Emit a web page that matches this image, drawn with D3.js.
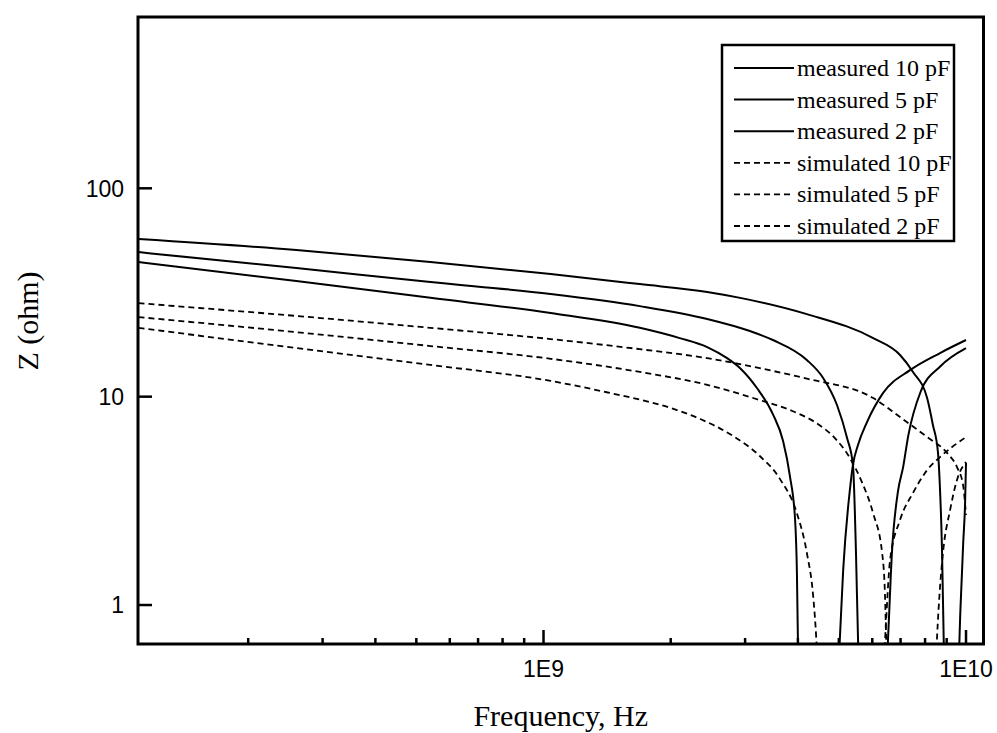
<!DOCTYPE html>
<html>
<head>
<meta charset="utf-8">
<script src="https://cdn.jsdelivr.net/npm/d3@7/dist/d3.min.js"></script>
<style>
  body { margin: 0; background: #fff; }
  .tick_label { font-family: "Liberation Sans", Arial, sans-serif; font-size: 23px; fill: #000; }
  .axis_title { font-family: "Liberation Serif", "Times New Roman", serif; font-size: 30px; fill: #000; }
  .legend_label { font-family: "Liberation Serif", "Times New Roman", serif; font-size: 24px; fill: #000; }
</style>
</head>
<body>
<div id="chart"></div>
<script>
// [frequency Hz, |Z| ohm]; 0.3 = below the visible range at a resonance dip
const measured10pF = [
  [1.10e8, 44.3], [2.6e8, 35.9], [5.4e8, 29.8], [1.04e9, 25.2], [1.69e9, 21.4],
  [2.10e9, 19.1], [2.44e9, 17.3], [2.72e9, 15.3], [2.92e9, 13.7], [3.20e9, 11.0],
  [3.49e9, 8.25], [3.69e9, 6.12], [3.83e9, 4.16], [3.94e9, 2.56], [3.98e9, 1.39],
  [4.00e9, 0.70], [4.1e9, 0.3], [4.9e9, 0.3], [5.03e9, 0.70], [5.12e9, 1.47],
  [5.31e9, 3.56], [5.40e9, 4.70], [5.55e9, 5.86], [5.83e9, 7.55], [6.36e9, 10.4],
  [7.37e9, 13.4], [8.68e9, 16.2], [1.0e10, 18.7]
];
const measured5pF = [
  [1.10e8, 49.4], [2.6e8, 41.4], [5.4e8, 35.5], [1.04e9, 31.1], [1.69e9, 27.2],
  [2.44e9, 23.6], [3.08e9, 20.65], [3.49e9, 18.7], [4.20e9, 15.0], [4.59e9, 12.3],
  [4.95e9, 9.12], [5.23e9, 6.33], [5.40e9, 4.70], [5.49e9, 1.78], [5.55e9, 0.70],
  [5.65e9, 0.3], [6.4e9, 0.3], [6.54e9, 0.7], [6.68e9, 1.8], [6.9e9, 3.5],
  [7.1e9, 4.6], [7.3e9, 6.5], [7.8e9, 10.5], [8.7e9, 14.0], [1.0e10, 17.1]
];
const measured2pF = [
  [1.10e8, 57.1], [2.6e8, 50.6], [5.4e8, 44.3], [1.04e9, 38.8], [1.69e9, 34.7],
  [2.44e9, 31.8], [2.92e9, 29.8], [4.2e9, 24.9], [6.03e9, 19.1], [6.98e9, 15.85],
  [7.49e9, 13.14], [8.09e9, 9.85], [8.35e9, 7.31], [8.58e9, 5.43], [8.68e9, 3.56],
  [8.77e9, 1.9], [8.82e9, 1.05], [8.95e9, 0.3], [9.5e9, 0.3], [9.7e9, 0.95],
  [9.85e9, 2.0], [9.95e9, 3.1], [1.0e10, 4.8]
];
const simulated10pF = [
  [1.10e8, 21.4], [2.6e8, 17.1], [5.4e8, 14.2], [1.04e9, 11.9], [1.41e9, 10.5],
  [2.03e9, 8.73], [2.35e9, 7.81], [2.81e9, 6.47], [3.25e9, 5.19], [3.63e9, 4.02],
  [3.98e9, 2.75], [4.20e9, 1.78], [4.35e9, 1.09], [4.42e9, 0.70], [4.5e9, 0.3],
  [6.3e9, 0.3], [6.45e9, 0.75], [6.61e9, 1.64], [6.98e9, 2.56], [7.49e9, 3.45],
  [8.09e9, 4.44], [8.68e9, 5.13], [1.0e10, 6.4]
];
const simulated5pF = [
  [1.10e8, 24.1], [2.6e8, 20.4], [5.4e8, 17.5], [1.04e9, 15.2], [1.69e9, 13.14],
  [2.44e9, 11.4], [3.25e9, 9.63], [3.83e9, 8.63], [4.44e9, 7.43], [4.90e9, 6.31],
  [5.31e9, 5.08], [5.67e9, 3.89], [6.03e9, 2.75], [6.33e9, 1.78], [6.43e9, 1.12],
  [6.47e9, 0.70], [6.55e9, 0.3], [8.4e9, 0.3], [8.54e9, 0.70], [8.68e9, 1.22],
  [8.82e9, 1.78], [9.17e9, 2.86], [9.52e9, 3.98], [1.0e10, 4.86]
];
const simulated2pF = [
  [1.10e8, 28.1], [2.6e8, 24.4], [5.4e8, 21.4], [1.04e9, 18.9], [1.69e9, 16.9],
  [2.44e9, 15.3], [3.25e9, 13.7], [4.2e9, 12.2], [6.03e9, 9.85], [6.98e9, 7.98],
  [8.09e9, 6.40], [9.02e9, 5.37], [9.52e9, 4.59], [9.84e9, 3.77], [1.0e10, 2.70]
];

const seriesList = [
  { name: "measured 10 pF", points: measured10pF, dashed: false },
  { name: "measured 5 pF", points: measured5pF, dashed: false },
  { name: "measured 2 pF", points: measured2pF, dashed: false },
  { name: "simulated 10 pF", points: simulated10pF, dashed: true },
  { name: "simulated 5 pF", points: simulated5pF, dashed: true },
  { name: "simulated 2 pF", points: simulated2pF, dashed: true }
];

const xDomain = [1.097e8, 1.1e10];
const yDomain = [0.65, 664];
const xTickValues = [1e9, 1e10];
const xTickLabels = ["1E9", "1E10"];
const yTickValues = [1, 10, 100];
const yTickLabels = ["1", "10", "100"];

const width = 997, height = 733;
const plot = { left: 138, right: 983.5, top: 17, bottom: 644 };

const svg = d3.select("#chart").append("svg")
  .attr("width", width)
  .attr("height", height)
  .style("display", "block");

const x = d3.scaleLog().domain(xDomain).range([plot.left, plot.right]);
const y = d3.scaleLog().domain(yDomain).range([plot.bottom, plot.top]);

svg.append("defs").append("clipPath")
  .attr("id", "plot-clip")
  .append("rect")
    .attr("x", plot.left)
    .attr("y", plot.top)
    .attr("width", plot.right - plot.left)
    .attr("height", plot.bottom - plot.top);

// curves
const line = d3.line()
  .x(function(d) { return x(d[0]) })
  .y(function(d) { return y(d[1]) })
  .curve(d3.curveMonotoneX);

const lineLayer = svg.append("g").attr("clip-path", "url(#plot-clip)");
seriesList.forEach(function(series) {
  lineLayer.append("path")
    .attr("fill", "none")
    .attr("stroke", "#000")
    .attr("stroke-width", series.dashed ? 1.8 : 2)
    .attr("stroke-dasharray", series.dashed ? "6,4" : null)
    .attr("d", line(series.points));
});

// bottom axis: major + minor ticks pointing inward
const minorX = x.ticks().filter(function(t) {
  return Math.abs(Math.log10(t) - Math.round(Math.log10(t))) > 1e-6;
});
const bottomAxis = svg.append("g").attr("transform", "translate(0," + plot.bottom + ")");
bottomAxis.selectAll(".minor")
  .data(minorX)
  .enter().append("line")
    .attr("x1", x).attr("x2", x)
    .attr("y1", 0).attr("y2", -6)
    .attr("stroke", "#000").attr("stroke-width", 2.5);
bottomAxis.selectAll(".major")
  .data(xTickValues)
  .enter().append("line")
    .attr("x1", x).attr("x2", x)
    .attr("y1", 0).attr("y2", -14)
    .attr("stroke", "#000").attr("stroke-width", 2.5);
bottomAxis.selectAll("text")
  .data(xTickValues)
  .enter().append("text")
    .attr("class", "tick_label")
    .attr("x", x)
    .attr("y", 33)
    .attr("text-anchor", "middle")
    .text(function(d, i) { return xTickLabels[i] });

// left axis
const leftAxis = svg.append("g").attr("transform", "translate(" + plot.left + ",0)");
leftAxis.selectAll("line")
  .data(yTickValues)
  .enter().append("line")
    .attr("x1", 0).attr("x2", 14)
    .attr("y1", y).attr("y2", y)
    .attr("stroke", "#000").attr("stroke-width", 2.5);
leftAxis.selectAll("text")
  .data(yTickValues)
  .enter().append("text")
    .attr("class", "tick_label")
    .attr("x", -14)
    .attr("y", y)
    .attr("dy", "0.36em")
    .attr("text-anchor", "end")
    .text(function(d, i) { return yTickLabels[i] });

// frame
svg.append("rect")
  .attr("x", plot.left)
  .attr("y", plot.top)
  .attr("width", plot.right - plot.left)
  .attr("height", plot.bottom - plot.top)
  .attr("fill", "none")
  .attr("stroke", "#000")
  .attr("stroke-width", 3);

// axis titles
svg.append("text")
  .attr("class", "axis_title")
  .attr("x", (plot.left + plot.right) / 2)
  .attr("y", 726)
  .attr("text-anchor", "middle")
  .text("Frequency, Hz");

svg.append("text")
  .attr("class", "axis_title")
  .attr("transform", "translate(38,321) rotate(-90)")
  .attr("text-anchor", "middle")
  .text("Z (ohm)");

// legend
const legend = { left: 722, top: 45, width: 232, height: 196, rowStart: 68, rowStep: 31.6 };
svg.append("rect")
  .attr("x", legend.left)
  .attr("y", legend.top)
  .attr("width", legend.width)
  .attr("height", legend.height)
  .attr("fill", "#fff")
  .attr("stroke", "#000")
  .attr("stroke-width", 2.5);

const legendRows = svg.append("g")
  .selectAll("g")
  .data(seriesList)
  .enter().append("g")
    .attr("transform", function(d, i) { return "translate(" + legend.left + "," + (legend.rowStart + i * legend.rowStep) + ")"; });

legendRows.append("line")
  .attr("x1", 12).attr("x2", 72)
  .attr("y1", 0).attr("y2", 0)
  .attr("stroke", "#000")
  .attr("stroke-width", function(d) { return d.dashed ? 1.8 : 2 })
  .attr("stroke-dasharray", function(d) { return d.dashed ? "6,4" : null });

legendRows.append("text")
  .attr("class", "legend_label")
  .attr("x", 75)
  .attr("dy", "0.33em")
  .text(function(d) { return d.name });
</script>
</body>
</html>
